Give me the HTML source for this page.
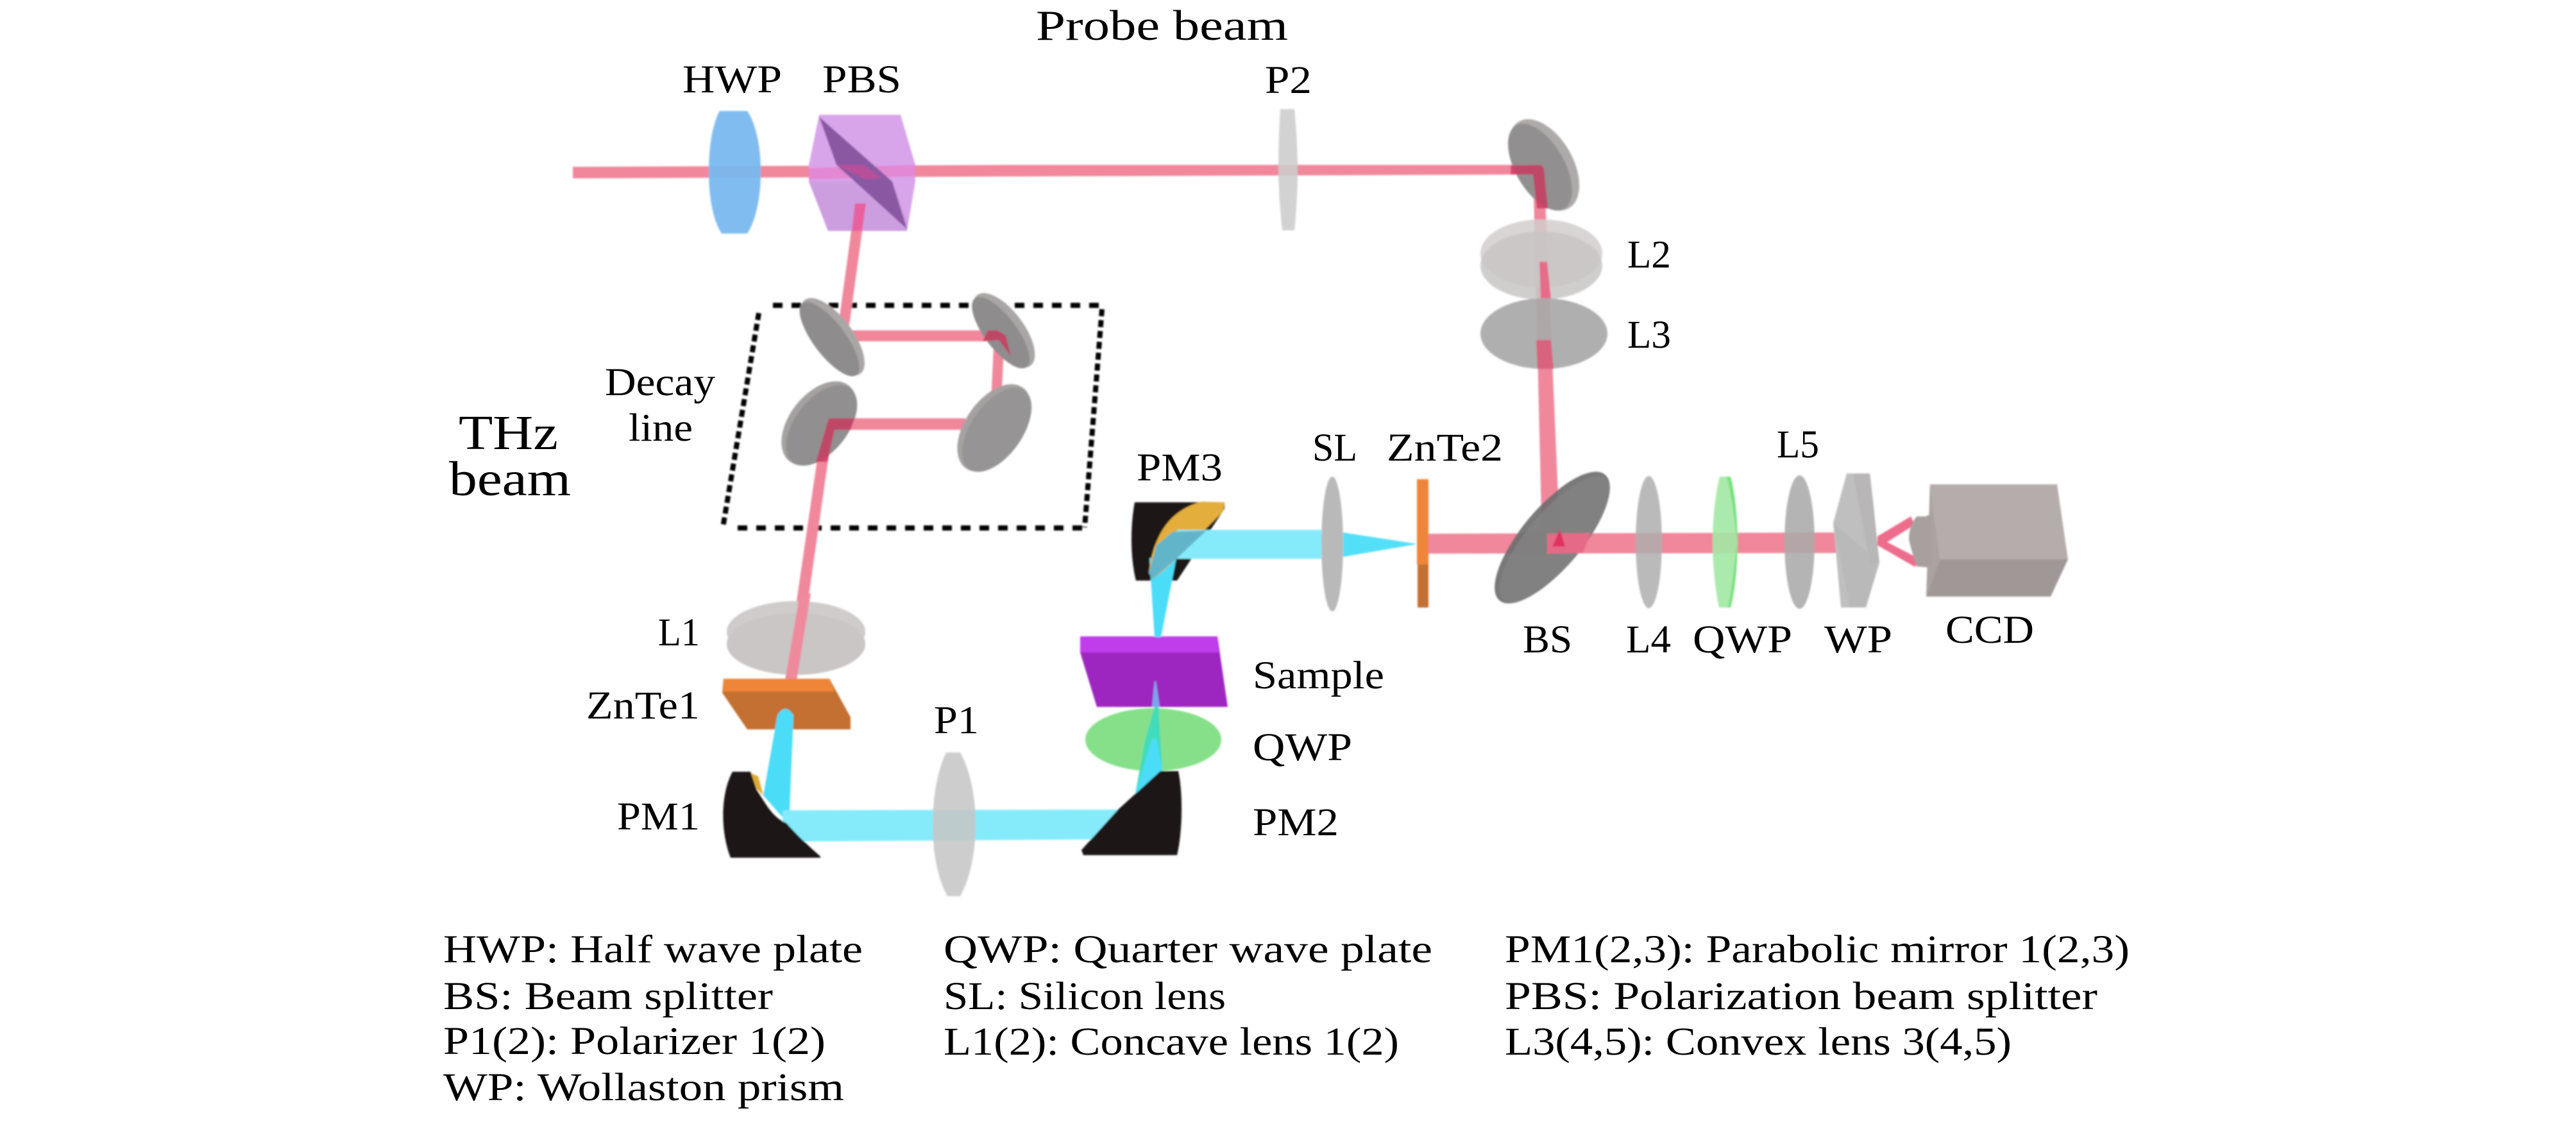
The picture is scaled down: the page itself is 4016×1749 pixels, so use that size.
<!DOCTYPE html>
<html><head><meta charset="utf-8"><style>
html,body{margin:0;padding:0;background:#fff;width:4016px;height:1749px;overflow:hidden}
svg{display:block}
text{font-family:"Liberation Serif",serif;fill:#000;font-size:61px}
</style></head><body>
<svg xmlns="http://www.w3.org/2000/svg" width="4016" height="1749" viewBox="0 0 4016 1749">
<rect width="4016" height="1749" fill="#fff"/>
<defs><filter id="s" x="-5%" y="-5%" width="110%" height="110%"><feGaussianBlur stdDeviation="1.2"/></filter></defs>
<g filter="url(#s)">
<!-- dashed box -->
<g fill="none" stroke="#000" stroke-width="8">
<path d="M1205,476 H1718" stroke-dasharray="15 14"/>
<path d="M1150,823 H1691" stroke-dasharray="15 14"/>
<path d="M1183,488 L1127,822" stroke-dasharray="11 6"/>
<path d="M1718,482 L1691,822" stroke-dasharray="11 6"/>
</g>
<!-- pink beams -->
<g fill="#f0879b">
<polygon points="893,260 1600,257 2400,257 2400,272 1600,275 893,278"/>
<polygon points="1333,317 1350,317 1325,500 1322,515 1306,515"/>
<polygon points="1315,515 1555,515 1555,532 1322,532"/>
<polygon points="1550,523 1566,523 1561,625 1545,625"/>
<polygon points="1290,652 1505,652 1505,670 1290,670"/>
<polygon points="1283,655 1300,655 1242,1060 1224,1060"/>
<polygon points="2390,262 2407,262 2432,840 2404,840"/>
<polygon points="2227,832 2879,830 2879,862 2227,863"/>
<polygon points="2927,836 2979,805 2985,818 2942,845 2990,870 2986,884 2927,850" fill="#ee6c8c"/>
</g>
<!-- mirrors -->
<g transform="translate(1298 525) rotate(53)"><ellipse rx="72" ry="31" fill="#aaa6a5"/><ellipse cy="6" rx="70" ry="25" fill="#8e8c8c"/></g>
<g transform="translate(1565 515) rotate(53)"><ellipse rx="69" ry="31" fill="#aaa6a5"/><ellipse cy="6" rx="67" ry="25" fill="#8e8c8c"/></g>
<g transform="translate(1277 660) rotate(-52)"><ellipse rx="75" ry="46" fill="#a5a1a0"/><ellipse cy="5" rx="73" ry="41" fill="#918f8f"/></g>
<g transform="translate(1550 667) rotate(-55)"><ellipse rx="77" ry="45" fill="#a5a1a0"/><ellipse cy="5" rx="75" ry="40" fill="#969494"/></g>
<g transform="translate(2407 257) rotate(60)"><ellipse rx="78" ry="45" fill="#aeaaa9"/><ellipse cy="7" rx="75" ry="38" fill="#918f8f"/></g>
<!-- beam on mirrors -->
<g fill="#cf2f5a" fill-opacity=".75">
<polygon points="1540,515 1555,515 1568,523 1576,555 1557,530 1532,532"/>
<polygon points="1292,652 1332,652 1326,670 1301,670 1290,720 1272,720"/>
<polygon points="2355,258 2402,257 2407,262 2413,325 2396,325 2390,272 2355,272" />
</g>
<!-- HWP -->
<path d="M1122,173 H1165 C1177,190 1186,225 1186,268 C1186,311 1177,346 1165,364 H1125 C1113,346 1105,311 1105,268 C1105,225 1112,190 1122,173Z" fill="#78b8ee" fill-opacity=".95"/>
<!-- PBS -->
<polygon points="1277,179 1404,179 1427,257 1427,283 1414,360 1291,360 1261,283 1261,257" fill="#d8a4ea"/>
<polygon points="1261,283 1291,360 1414,360 1414,345 1391,283 1320,283" fill="#cc9ee0"/>
<polygon points="1261,262 1427,257 1427,275 1261,280" fill="#e87cc8" fill-opacity=".7"/>
<polygon points="1277,182 1304,257 1414,357 1391,283" fill="#8a58a2"/>
<polygon points="1304,257 1345,257 1375,277 1350,280" fill="#b8509a"/>
<polygon points="1333,317 1350,317 1344,360 1328,360" fill="#e8609e"/>
<!-- P2 -->
<path d="M1996,170 H2018 C2021,200 2023,235 2023,265 C2023,295 2021,330 2018,359 H1999 C1996,330 1993,295 1993,265 C1993,235 1994,200 1996,170Z" fill="#cccccc" fill-opacity=".88"/>
<!-- L2 L3 -->
<ellipse cx="2403" cy="395" rx="95" ry="53" fill="#d2cecd" fill-opacity=".85"/>
<ellipse cx="2403" cy="414" rx="95" ry="53" fill="#c8c5c4" fill-opacity=".85"/>
<polygon points="2400,408 2412,408 2418,465 2402,465" fill="#e56d8a"/>
<ellipse cx="2407" cy="520" rx="99" ry="55" fill="#a9a8a8" fill-opacity=".92"/>
<polygon points="2395,530 2418,530 2422,575 2397,575" fill="#d8637f"/>
<!-- L1 -->
<ellipse cx="1241" cy="985" rx="108" ry="48" fill="#cfcccb"/>
<ellipse cx="1241" cy="1004" rx="108" ry="48" fill="#c9c6c5"/>
<polygon points="1247,925 1264,925 1242,1060 1224,1060" fill="#ee8a9c"/>
<!-- ZnTe1 -->
<polygon points="1128,1058 1293,1058 1326,1118 1326,1137 1165,1137 1126,1080" fill="#c46f33"/>
<polygon points="1128,1058 1293,1058 1301,1078 1127,1078" fill="#ee8538"/>
<!-- cyan THz beam -->
<path d="M1212,1115 Q1224,1095 1237,1115 L1230,1285 L1190,1240Z" fill="#4cdcf8"/>
<polygon points="1220,1263 1760,1262 1760,1308 1220,1312" fill="#85ebfb"/>
<!-- P1 -->
<path d="M1475,1173 H1497 C1512,1200 1521,1240 1521,1285 C1521,1330 1512,1370 1497,1397 H1477 C1462,1370 1454,1330 1454,1285 C1454,1240 1462,1200 1475,1173Z" fill="#c6c6c6" fill-opacity=".88"/>
<!-- PM1 -->
<path d="M1170,1205 L1182,1210 L1190,1240 L1180,1230Z" fill="#e0a830"/>
<path d="M1142,1203 L1170,1203 L1180,1232 C1195,1255 1205,1275 1226,1283 Q1250,1310 1279,1335 L1279,1337 H1139 C1124,1300 1122,1240 1142,1203Z" fill="#1a1414"/>
<!-- QWP right -->
<ellipse cx="1798" cy="1153" rx="106" ry="49" fill="#86e08a"/>
<polygon points="1800,1102 1806,1102 1812,1200 1770,1237 1785,1155" fill="#3fdcbc" />
<polygon points="1796,1152 1803,1152 1812,1200 1770,1237" fill="#4cdcf8"/>
<!-- PM2 -->
<path d="M1809,1202 H1837 C1845,1240 1843,1300 1835,1333 H1689 L1686,1325 L1742,1263 Z" fill="#1a1414"/>
<!-- Sample -->
<polygon points="1684,992 1898,992 1914,1102 1710,1102 1684,1017" fill="#9e28c0"/>
<polygon points="1684,992 1898,992 1900,1017 1684,1017" fill="#c03cec"/>
<polygon points="1800,1062 1802,1062 1808,1102 1796,1102" fill="#7ca4ee"/>
<!-- PM3 -->
<path d="M1769,783 H1909 V793 L1835,905 H1771 C1762,870 1762,820 1769,783Z" fill="#1a1414"/>
<polygon points="1800,993 1810,993 1834,870 1792,870" fill="#4cdcf8"/>
<path d="M1873,782 L1909,783 L1907,797 L1835,870 Q1815,890 1797,903 L1791,893 Q1795,860 1805,840 Q1825,795 1873,782Z" fill="#e3ae3a"/>
<polygon points="1835,826 2060,826 2060,871 1830,871" fill="#85ebfb"/>
<polygon points="1828,829 1881,827 1835,870 1797,903 1791,893 1803,850" fill="#62b5c8"/>
<polygon points="2094,830 2210,848 2094,868" fill="#52dff8"/>
<!-- SL -->
<ellipse cx="2077" cy="848" rx="17" ry="105" fill="#b3b3b3" fill-opacity=".92"/>
<!-- ZnTe2 -->
<rect x="2209" y="747" width="18" height="133" fill="#ee8538"/>
<rect x="2210" y="880" width="17" height="67" fill="#c46f33"/>
<!-- BS -->
<g transform="translate(2420 838) rotate(-50)" ><ellipse rx="128" ry="47" fill="#6e6e6e" fill-opacity=".92"/><ellipse cy="4" rx="124" ry="42" fill="#838383" fill-opacity=".8"/></g>
<polygon points="2412,832 2480,831 2468,862 2412,863" fill="#e56a88"/>
<polygon points="2420,852 2432,825 2440,852" fill="#e0305f"/>
<!-- L4 -->
<ellipse cx="2570.5" cy="845" rx="20.5" ry="103" fill="#aeaeae" fill-opacity=".85"/>
<!-- QWP2 -->
<path d="M2681,743 H2698 C2705,770 2709,810 2709,845 C2709,880 2705,920 2698,947 H2680 C2674,920 2670,880 2670,845 C2670,810 2674,770 2681,743Z" fill="#a2e8a4" fill-opacity=".9"/>
<path d="M2692,743 H2698 C2705,770 2709,810 2708,845 C2704,810 2700,770 2692,743Z M2694,947 H2698 C2705,920 2709,880 2708,845 C2704,880 2700,920 2694,947Z" fill="#76e27c"/>
<!-- L5 -->
<ellipse cx="2805.5" cy="845" rx="23.5" ry="104" fill="#aaaaaa" fill-opacity=".88"/>
<!-- WP -->
<polygon points="2879,738 2915,738 2930,877 2909,947 2870,947 2858,815" fill="#c0bfbf"/>
<polygon points="2889,738 2915,738 2920,780 2930,877 2915,877" fill="#b8b6b6"/>
<polygon points="2858,815 2884,947 2909,947 2930,877" fill="#b6b5b5" fill-opacity=".6"/>
<!-- CCD -->
<polygon points="3009,755 3207,755 3224,872 3024,872 3003,930" fill="#b5adac"/>
<polygon points="3024,872 3224,872 3197,930 3003,930" fill="#a09897"/>
<polygon points="3009,755 3024,872 3003,930" fill="#aba3a2"/>
<path d="M2988,805 L3002,805 L3012,800 L3012,885 L2988,883 Q2976,845 2976,840 Q2976,820 2988,805Z" fill="#a8a09f"/>
</g>
<!-- labels -->
<text x="1615" y="62" textLength="393" lengthAdjust="spacingAndGlyphs" style="font-size:67px">Probe beam</text>
<text x="1064" y="144" textLength="155" lengthAdjust="spacingAndGlyphs">HWP</text>
<text x="1282" y="144" textLength="123" lengthAdjust="spacingAndGlyphs">PBS</text>
<text x="1972" y="145" textLength="73" lengthAdjust="spacingAndGlyphs">P2</text>
<text x="2537" y="417" textLength="68" lengthAdjust="spacingAndGlyphs">L2</text>
<text x="2537" y="542" textLength="68" lengthAdjust="spacingAndGlyphs">L3</text>
<text x="943" y="616" textLength="172" lengthAdjust="spacingAndGlyphs">Decay</text>
<text x="980" y="687" textLength="100" lengthAdjust="spacingAndGlyphs">line</text>
<text x="715" y="700" textLength="155" lengthAdjust="spacingAndGlyphs" style="font-size:76px">THz</text>
<text x="700" y="772" textLength="190" lengthAdjust="spacingAndGlyphs" style="font-size:76px">beam</text>
<text x="1772" y="749" textLength="134" lengthAdjust="spacingAndGlyphs">PM3</text>
<text x="2046" y="718" textLength="70" lengthAdjust="spacingAndGlyphs">SL</text>
<text x="2162" y="718" textLength="181" lengthAdjust="spacingAndGlyphs">ZnTe2</text>
<text x="2770" y="713" textLength="66" lengthAdjust="spacingAndGlyphs">L5</text>
<text x="2374" y="1017" textLength="77" lengthAdjust="spacingAndGlyphs">BS</text>
<text x="2535" y="1017" textLength="70" lengthAdjust="spacingAndGlyphs">L4</text>
<text x="2639" y="1017" textLength="155" lengthAdjust="spacingAndGlyphs">QWP</text>
<text x="2844" y="1017" textLength="106" lengthAdjust="spacingAndGlyphs">WP</text>
<text x="3033" y="1002" textLength="138" lengthAdjust="spacingAndGlyphs">CCD</text>
<text x="1953" y="1073" textLength="205" lengthAdjust="spacingAndGlyphs">Sample</text>
<text x="1953" y="1185" textLength="155" lengthAdjust="spacingAndGlyphs">QWP</text>
<text x="1953" y="1302" textLength="134" lengthAdjust="spacingAndGlyphs">PM2</text>
<text x="1026" y="1006" textLength="65" lengthAdjust="spacingAndGlyphs">L1</text>
<text x="914" y="1120" textLength="177" lengthAdjust="spacingAndGlyphs">ZnTe1</text>
<text x="962" y="1293" textLength="129" lengthAdjust="spacingAndGlyphs">PM1</text>
<text x="1456" y="1143" textLength="70" lengthAdjust="spacingAndGlyphs">P1</text>
<!-- legend -->
<text x="691" y="1500" textLength="654" lengthAdjust="spacingAndGlyphs">HWP: Half wave plate</text>
<text x="691" y="1573" textLength="514" lengthAdjust="spacingAndGlyphs">BS: Beam splitter</text>
<text x="691" y="1643" textLength="596" lengthAdjust="spacingAndGlyphs">P1(2): Polarizer 1(2)</text>
<text x="691" y="1715" textLength="625" lengthAdjust="spacingAndGlyphs">WP: Wollaston prism</text>
<text x="1471" y="1500" textLength="762" lengthAdjust="spacingAndGlyphs">QWP: Quarter wave plate</text>
<text x="1471" y="1573" textLength="440" lengthAdjust="spacingAndGlyphs">SL: Silicon lens</text>
<text x="1471" y="1644" textLength="710" lengthAdjust="spacingAndGlyphs">L1(2): Concave lens 1(2)</text>
<text x="2346" y="1500" textLength="974" lengthAdjust="spacingAndGlyphs">PM1(2,3): Parabolic mirror 1(2,3)</text>
<text x="2346" y="1573" textLength="924" lengthAdjust="spacingAndGlyphs">PBS: Polarization beam splitter</text>
<text x="2346" y="1644" textLength="790" lengthAdjust="spacingAndGlyphs">L3(4,5): Convex lens 3(4,5)</text>
</svg>
</body></html>
